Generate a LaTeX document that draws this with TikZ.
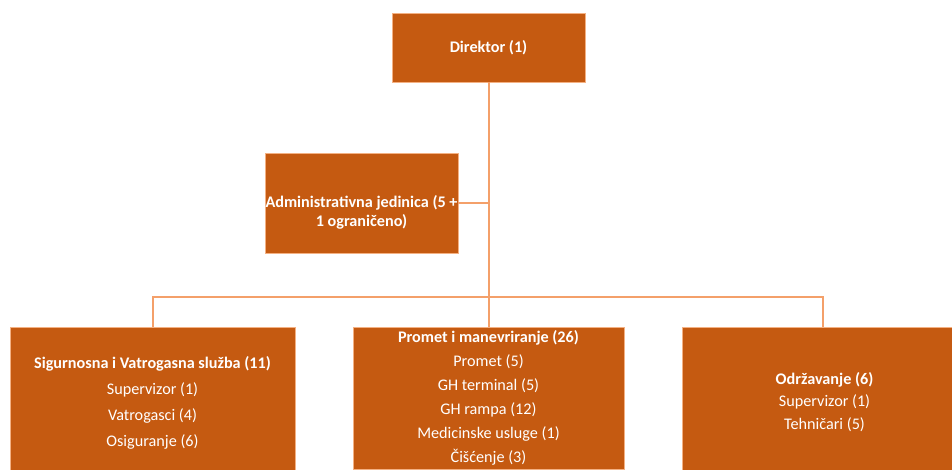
\documentclass[tikz,border=0pt]{standalone}
\usepackage{fontspec}
\setmainfont{Carlito}
\definecolor{boxfill}{HTML}{C55A11}
\definecolor{boxedge}{HTML}{F4B183}
\definecolor{linkc}{HTML}{F4A06A}
\tikzset{
  orgbox/.style={draw=boxedge, line width=0.6pt, fill=boxfill, text=white, inner sep=0pt, align=center},
  link/.style={draw=linkc, line width=2pt},
  txt/.style={text=white, inner sep=0pt, align=center}
}
\begin{document}
\begin{tikzpicture}[x=1pt,y=-1pt]
\useasboundingbox (0,0) rectangle (952,469);
\clip (0,0) rectangle (952,469);
\node[orgbox, minimum width=193pt, minimum height=69pt, font=\fontsize{16.2}{19}\selectfont\bfseries] (dir) at (488.5,47.5) {Direktor (1)};
\node[orgbox, minimum width=193pt, minimum height=100pt] (adm) at (361.5,203) {};
\node[txt, font=\fontsize{16.2}{19}\selectfont\bfseries] (admtxt) at (361.5,212) {Administrativna jedinica (5 +\\1 ograničeno)};
\node[orgbox, minimum width=285pt, minimum height=152pt, font=\fontsize{16.2}{26}\selectfont] (sig) at (152.5,403) {\textbf{Sigurnosna i Vatrogasna služba (11)}\\Supervizor (1)\\Vatrogasci (4)\\Osiguranje (6)};
\node[orgbox, minimum width=271pt, minimum height=142pt, font=\fontsize{16.2}{24}\selectfont] (pro) at (488.5,398) {\textbf{Promet i manevriranje (26)}\\Promet (5)\\GH terminal (5)\\GH rampa (12)\\Medicinske usluge (1)\\Čišćenje (3)};
\node[orgbox, minimum width=285pt, minimum height=150pt, font=\fontsize{16.2}{22.5}\selectfont] (odr) at (824.5,402) {\textbf{Održavanje (6)}\\Supervizor (1)\\Tehničari (5)};
\coordinate (bus) at (488.5,297);
\draw[link] (dir.south) -- (pro.north);
\draw[link] (adm.east) -- (adm.east -| dir.south);
\draw[link] (sig.north -| 152.5,0) |- (bus) -| (odr.north -| 823,0);
\end{tikzpicture}
\end{document}
